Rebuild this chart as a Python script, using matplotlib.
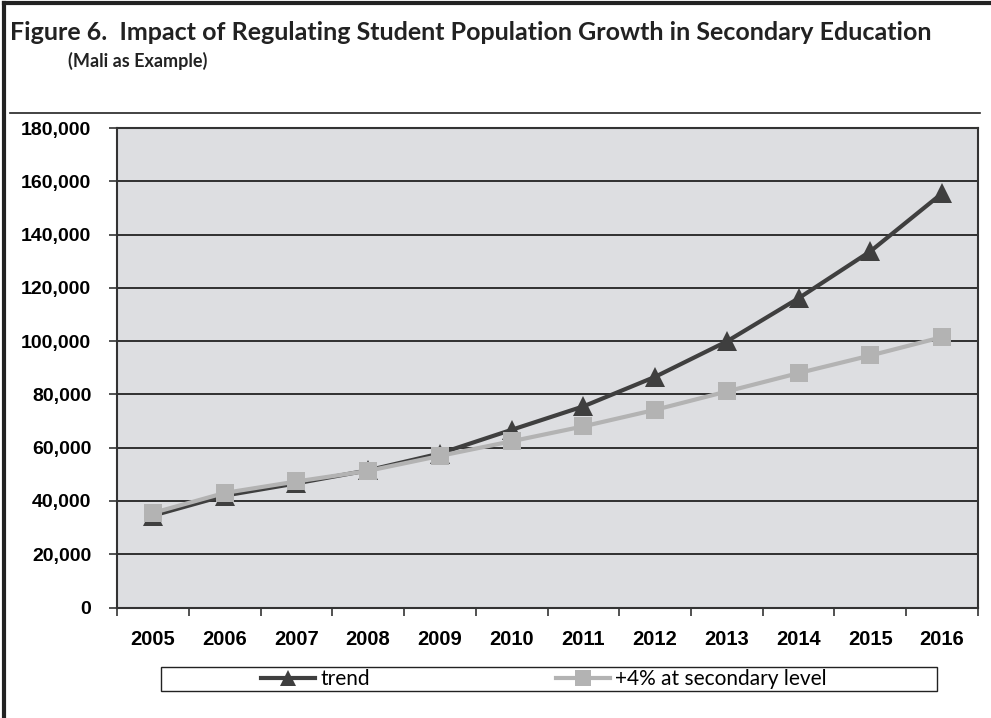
import matplotlib
matplotlib.use("Agg")
import matplotlib.pyplot as plt
from matplotlib.lines import Line2D
from matplotlib.patches import Rectangle
import matplotlib.font_manager as fm

years = ["2005", "2006", "2007", "2008", "2009", "2010", "2011", "2012", "2013", "2014", "2015", "2016"]
trend = [34500, 42000, 46600, 51500, 57800, 66700, 75500, 86600, 99900, 116100, 133700, 155500]
secondary = [35500, 43000, 47300, 51300, 56900, 62400, 68000, 74200, 81100, 88000, 94600, 101500]
y_ticks = [0, 20000, 40000, 60000, 80000, 100000, 120000, 140000, 160000, 180000]

names = {f.name for f in fm.fontManager.ttflist}
narrow = "Lato" if "Lato" in names else "DejaVu Sans"
sans = "Liberation Sans" if "Liberation Sans" in names else "DejaVu Sans"

W, H = 991, 718
fig = plt.figure(figsize=(W / 100, H / 100), dpi=100)
fig.patch.set_facecolor("white")
renderer = fig.canvas.get_renderer()


def fit_text(t, target_px):
    bb = t.get_window_extent(renderer=renderer)
    t.set_fontsize(t.get_fontsize() * target_px / bb.width)


# outer frame lines (left and top)
fig.add_artist(Line2D([4 / W, 4 / W], [0, 1 - 3 / H], transform=fig.transFigure, color="#222222", lw=3))
fig.add_artist(Line2D([4 / W, 1], [1 - 3 / H, 1 - 3 / H], transform=fig.transFigure, color="#222222", lw=3))
# separator under title
fig.add_artist(Line2D([10 / W, 980 / W], [1 - 113 / H, 1 - 113 / H], transform=fig.transFigure, color="#222222", lw=1.2))

t1 = fig.text(10 / W, 1 - 33 / H, "Figure 6.  Impact of Regulating Student Population Growth in Secondary Education",
              family=narrow, fontweight="bold", fontsize=17, color="#222222", va="center", ha="left")
fit_text(t1, 920)
t2 = fig.text(68 / W, 1 - 61 / H, "(Mali as Example)", family=narrow, fontweight="bold", fontsize=13,
              color="#222222", va="center", ha="left")
fit_text(t2, 139)

left, right, top, bottom = 117, 978, 128, 607.5
ax = fig.add_axes([left / W, 1 - bottom / H, (right - left) / W, (bottom - top) / H])
ax.set_facecolor("#dddee1")

x = list(range(len(years)))
ax.plot(x, trend, color="#3f3f3f", lw=3, marker="^", markersize=14, markeredgewidth=0, label="trend", zorder=3)
ax.plot(x, secondary, color="#b3b3b3", lw=3, marker="s", markersize=13, markeredgewidth=0,
        label="+4% at secondary level", zorder=4)

ax.set_xlim(-0.5, len(years) - 0.5)
ax.set_ylim(0, 180000)
ax.set_yticks(y_ticks)
ax.set_yticklabels([f"{v:,}" for v in y_ticks], family=sans, fontweight="bold", fontsize=14)
ax.set_xticks(x)
ax.set_xticklabels(years, family=sans, fontweight="bold", fontsize=14.5)
ax.set_xticks([i - 0.5 for i in range(len(years) + 1)], minor=True)
ax.tick_params(axis="x", which="major", length=0, pad=16)
ax.tick_params(axis="x", which="minor", length=6, width=1.2, color="#333333", direction="out")
ax.tick_params(axis="y", which="major", length=6, width=1.2, color="#333333", pad=12.5)
ax.grid(axis="y", color="#222222", lw=1.3)
ax.set_axisbelow(True)
for s in ax.spines.values():
    s.set_color("#333333")
    s.set_linewidth(1.5)

# legend box
fig.add_artist(Rectangle((161 / W, 1 - 691 / H), (937 - 161) / W, 24 / H, transform=fig.transFigure,
                         facecolor="white", edgecolor="#222222", lw=1.0, zorder=1))
handles, labels = ax.get_legend_handles_labels()
leg = fig.legend(handles, labels, loc="center", bbox_to_anchor=(544 / W, 1 - 679 / H),
                 ncol=2, frameon=False, prop={"family": narrow, "size": 15},
                 handlelength=2.6, handletextpad=0.25, columnspacing=8.9, markerscale=0.85)
leg.set_zorder(2)

fig.savefig("out.png", dpi=100, facecolor="white")
